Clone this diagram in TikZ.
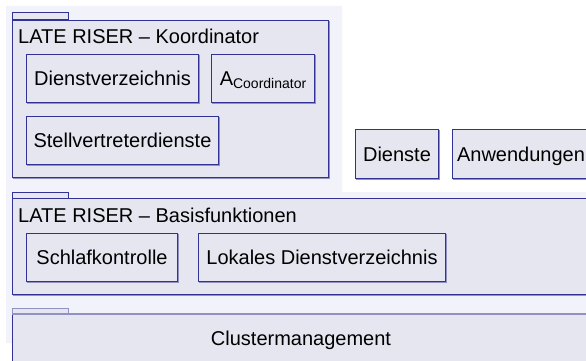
\documentclass[tikz,border=0pt]{standalone}
\usepackage{fontspec}
\setmainfont{Liberation Sans}
\definecolor{pagebg}{RGB}{242,242,250}
\definecolor{boxfill}{RGB}{230,230,240}
\definecolor{edge}{RGB}{50,50,150}
\definecolor{edgeshade}{RGB}{145,145,195}
\tikzset{
  every node/.style={font=\fontsize{20}{24}\selectfont, inner sep=0pt},
  shaded/.style={preaction={draw=edgeshade, line width=1pt,
      transform canvas={shift={(0.9pt,-0.9pt)}}}},
  pkg/.style={shaded, draw=edge, fill=boxfill, line width=1pt,
      rectangle, anchor=north west},
  comp/.style={pkg, text height=14.4pt, text depth=0pt, align=center},
  tab/.style={draw=edge, fill=boxfill, line width=1pt},
  title/.style={anchor=base west},
}
\begin{document}
\begin{tikzpicture}[x=1pt, y=-1pt]
  \useasboundingbox (0,0) rectangle (586,361);
  \clip (0,0) rectangle (586,361);
  \fill[white] (0,0) rectangle (586,361);
  \fill[pagebg] (6,6) -- (342,6) -- (342,192) -- (590,192) -- (590,343) -- (6,343) -- cycle;

  % package: Koordinator
  \draw[tab] (12,20) rectangle (68,13);
  \node[pkg, minimum width=316pt, minimum height=157pt] (koord) at (12,20) {};
  \node[title] (koordtitle) at (18,44) {LATE RISER -- Koordinator};
  \node[comp, minimum width=172pt, minimum height=48pt] (dv) at (26,54) {Dienstverzeichnis};
  \node[comp, minimum width=103pt, minimum height=48pt] (acoord) at (211,54)
    {A\raisebox{-3pt}{\fontsize{14}{16}\selectfont Coordinator}};
  \node[comp, minimum width=192pt, minimum height=48pt] (svd) at (26,116) {Stellvertreterdienste};

  % free components
  \node[comp, minimum width=83pt, minimum height=49pt] (dienste) at (355,129) {Dienste};
  \node[comp, minimum width=137pt, minimum height=49pt] (anw) at (452,129) {Anwendungen};

  % package: Basisfunktionen
  \draw[tab] (12,198) rectangle (68,192);
  \node[pkg, minimum width=577pt, minimum height=96pt] (basis) at (12,198) {};
  \node[title] (basistitle) at (18,222) {LATE RISER -- Basisfunktionen};
  \node[comp, minimum width=151pt, minimum height=48pt] (schlaf) at (26,233) {Schlafkontrolle};
  \node[comp, minimum width=247pt, minimum height=48pt] (lokal) at (198,233) {Lokales Dienstverzeichnis};

  % package: Clustermanagement
  \draw[tab, draw=edgeshade] (12,314) rectangle (68,308);
  \node[comp, minimum width=577pt, minimum height=48pt] (cluster) at (12,314) {Clustermanagement};
  \draw[edgeshade, line width=1.8pt] (cluster.north west) -- (cluster.north east);
\end{tikzpicture}
\end{document}
